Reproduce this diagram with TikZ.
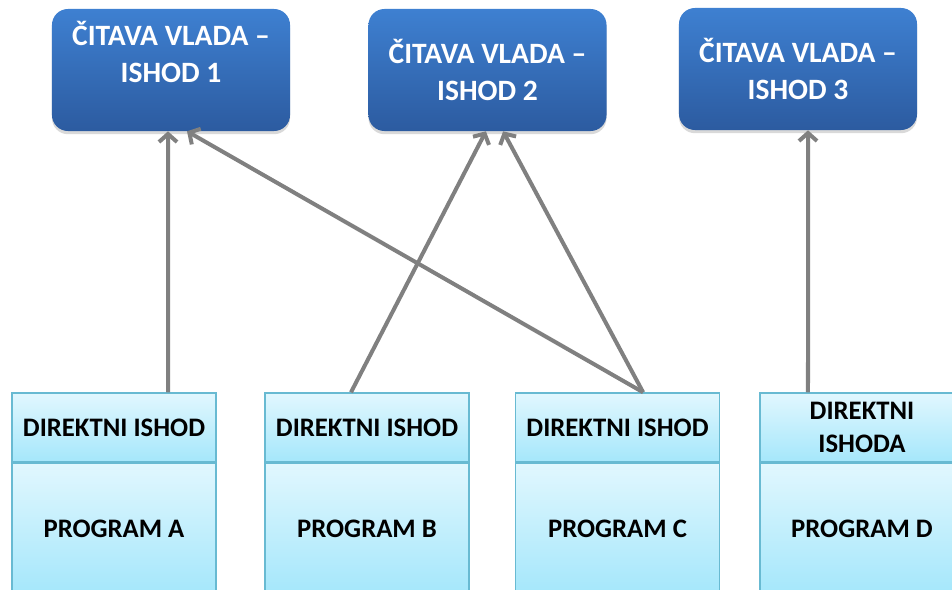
\documentclass[tikz,border=0pt]{standalone}
\usepackage{fontspec}
\setmainfont{Carlito}
\usetikzlibrary{positioning}
\usetikzlibrary{calc}
\usetikzlibrary{arrows.meta}
\usetikzlibrary{shadows}
\definecolor{vladatop}{RGB}{62,128,209}
\definecolor{vladabottom}{RGB}{44,91,160}
\definecolor{programtop}{RGB}{225,247,254}
\definecolor{programbottom}{RGB}{165,231,251}
\definecolor{programline}{RGB}{104,186,210}
\definecolor{arrowgray}{RGB}{128,128,128}

\begin{document}
\begin{tikzpicture}[x=0.025cm, y=-0.025cm, every node/.style={align=center, font=\bfseries},
    vladabox/.style={rounded corners=0.4cm, minimum width=5.95cm, minimum height=3.05cm,
        top color=vladatop, bottom color=vladabottom, text=white,
        font=\bfseries\fontsize{21}{26}\selectfont,
        drop shadow={shadow xshift=0cm, shadow yshift=-0.08cm, opacity=0.3}},
    ishodbox/.style={draw=programline, line width=1pt, minimum width=5.1cm, minimum height=1.725cm,
        top color=programtop, bottom color=programbottom, text=black,
        font=\bfseries\fontsize{19}{24}\selectfont},
    programbox/.style={ishodbox, minimum height=3.25cm, anchor=north},
    veza/.style={draw=arrowgray, line width=0.1cm, -{Straight Barb[length=0.2cm, width=0.45cm]}}]

        \useasboundingbox (0,0) rectangle (952,590);

        % Top boxes
        \node[vladabox] (vlada1) at (171,70) {\raisebox{0.15cm}[0pt][0pt]{\begin{tabular}{@{}c@{}}ČITAVA VLADA –\\ISHOD 1\end{tabular}}};
        \node[vladabox] (vlada2) at (487.5,70) {ČITAVA VLADA –\\ISHOD 2};
        \node[vladabox] (vlada3) at (798,69) {ČITAVA VLADA –\\ISHOD 3};

        % Bottom boxes
        \node[ishodbox] (ishodA) at (114,427.5) {DIREKTNI ISHOD};
        \node[programbox] (programA) at (ishodA.south) {PROGRAM A};

        \node[ishodbox] (ishodB) at (367,427.5) {DIREKTNI ISHOD};
        \node[programbox] (programB) at (ishodB.south) {PROGRAM B};

        \node[ishodbox] (ishodC) at (617.5,427.5) {DIREKTNI ISHOD};
        \node[programbox] (programC) at (ishodC.south) {PROGRAM C};

        \node[ishodbox] (ishodD) at (862,427.5) {DIREKTNI\\ISHODA};
        \node[programbox] (programD) at (ishodD.south) {PROGRAM D};

        % Arrows
        \draw[veza] ([xshift=1.35cm]ishodA.north) -- ([xshift=-0.075cm]vlada1.south);
        \draw[veza] ([xshift=0.64cm]ishodC.north) -- ([xshift=0.4cm]vlada1.south);
        \draw[veza] ([xshift=-0.4cm]ishodB.north) -- ([xshift=-0.04cm]vlada2.south);
        \draw[veza] ([xshift=0.64cm]ishodC.north) -- ([xshift=0.39cm]vlada2.south);
        \draw[veza] ([xshift=-1.35cm]ishodD.north) -- ([xshift=0.25cm]vlada3.south);

    \end{tikzpicture}
\end{document}
